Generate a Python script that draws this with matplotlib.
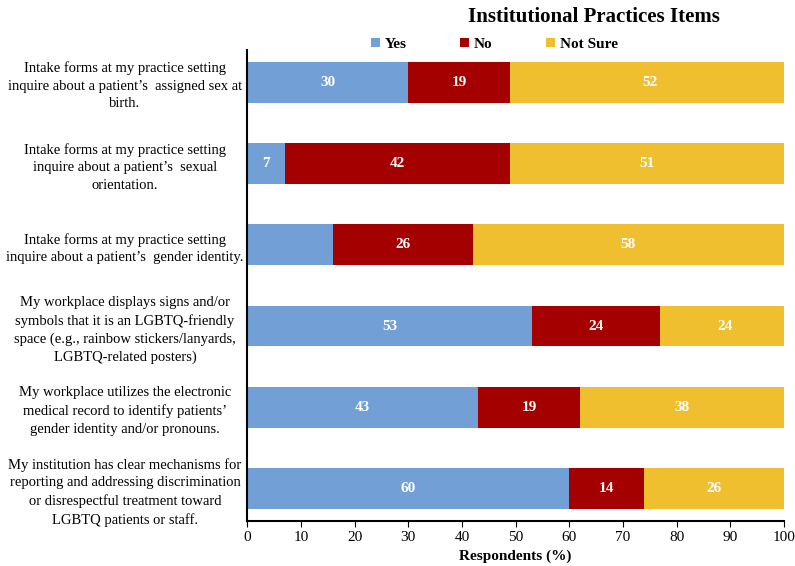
import matplotlib.pyplot as plt
import numpy as np

items = [
    "Intake forms at my practice setting\ninquire about a patient\u2019s  assigned sex at\nbirth.",
    "Intake forms at my practice setting\ninquire about a patient\u2019s  sexual\norientation.",
    "Intake forms at my practice setting\ninquire about a patient\u2019s  gender identity.",
    "My workplace displays signs and/or\nsymbols that it is an LGBTQ-friendly\nspace (e.g., rainbow stickers/lanyards,\nLGBTQ-related posters)",
    "My workplace utilizes the electronic\nmedical record to identify patients\u2019\ngender identity and/or pronouns.",
    "My institution has clear mechanisms for\nreporting and addressing discrimination\nor disrespectful treatment toward\nLGBTQ patients or staff.",
]
yes = [30, 7, 16, 53, 43, 60]
no = [19, 42, 26, 24, 19, 14]
not_sure = [52, 51, 58, 24, 38, 26]
# the original leaves the 16 unlabeled
show_yes = [True, True, False, True, True, True]

plt.rcParams['font.family'] = ['Liberation Serif', 'DejaVu Serif']

def main():
    fig = plt.figure(figsize=(7.95, 5.66), dpi=100)
    ax = fig.add_axes([0.311, 0.0795, 0.675, 0.8325])
    y = np.arange(len(items))
    h = 0.5
    series = [("Yes", yes, "#729fd6"), ("No", no, "#a50000"), ("Not Sure", not_sure, "#efbf30")]
    left = np.zeros(len(items))
    for name, vals, col in series:
        vals = np.array(vals, dtype=float)
        bars = ax.barh(y, vals, height=h, left=left, color=col, label=name)
        for i, b in enumerate(bars):
            if name == "Yes" and not show_yes[i]:
                continue
            cx = left[i] + vals[i] / 2
            ax.text(cx, y[i], str(int(vals[i])), ha='center', va='center',
                    color='white', fontweight='bold', fontsize=11)
        left = left + vals

    ax.set_xlim(0, 100)
    ax.set_ylim(5.4, -0.4)
    ax.set_xticks(np.arange(0, 101, 10))
    ax.set_yticks(y)
    ax.set_yticklabels(items, ha='center', fontsize=10.5, linespacing=1.45)
    ax.tick_params(axis='y', length=0, pad=88)
    ax.tick_params(axis='x', labelsize=11, direction='out', length=4, pad=3)
    for s in ['top', 'right']:
        ax.spines[s].set_visible(False)
    ax.spines['left'].set_linewidth(1.5)
    ax.spines['bottom'].set_linewidth(1.5)
    ax.set_xlabel("Respondents (%)", fontweight='bold', fontsize=11, labelpad=4)

    fig.text(0.747, 0.97, "Institutional Practices Items", ha='center', va='center',
             fontweight='bold', fontsize=15)
    fig.legend(loc='center', bbox_to_anchor=(0.622, 0.922), ncol=3, frameon=False,
               prop={'weight': 'bold', 'size': 11}, handlelength=0.6, handleheight=0.6,
               handletextpad=0.3, columnspacing=3.5)

    fig.savefig("out.png", dpi=100)

if __name__ == '__main__':
    main()
